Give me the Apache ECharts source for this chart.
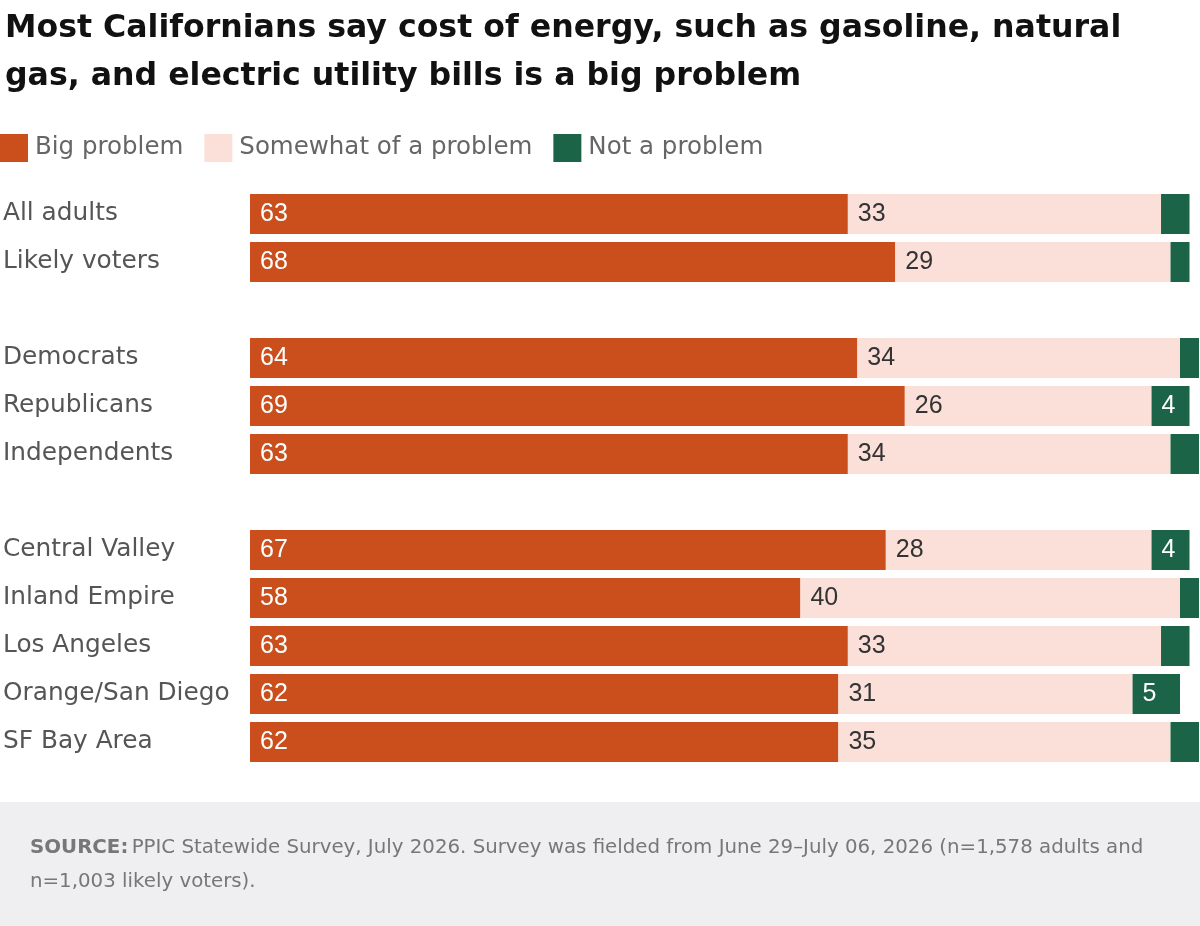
<!DOCTYPE html>
<html>
<head>
<meta charset="utf-8">
<script src="https://cdn.jsdelivr.net/npm/echarts@6/dist/echarts.min.js"></script>
<style>
  html, body { margin: 0; padding: 0; background: #fff; }
  #chart { width: 1200px; height: 926px; }
</style>
</head>
<body>
<div id="chart"></div>
<script>
// rows, '' = spacer between groups
var categories = ['All adults', 'Likely voters', '', 'Democrats', 'Republicans', 'Independents', '',
    'Central Valley', 'Inland Empire', 'Los Angeles', 'Orange/San Diego', 'SF Bay Area'];
var bigProblem = [63, 68, null, 64, 69, 63, null, 67, 58, 63, 62, 62];
var somewhatProblem = [33, 29, null, 34, 26, 34, null, 28, 40, 33, 31, 35];
var notProblem = [3, 2, null, 2, 4, 3, null, 4, 2, 3, 5, 3];

var FONT = '"DejaVu Sans", sans-serif';
var NUMFONT = '"Liberation Sans", Arial, sans-serif';
var chart = echarts.init(document.getElementById('chart'));

function seriesLabel(color, minShow) {
    return {
        show: true,
        position: 'insideLeft',
        distance: 10,
        formatter: function (p) {
            return (p.value == null || p.value < minShow) ? '' : '{n|' + p.value + '}';
        },
        rich: {
            n: { fontFamily: NUMFONT, fontSize: 25, color: color }
        }
    };
}

var option = {
    backgroundColor: '#ffffff',
    animation: false,
    title: {
        text: 'Most Californians say cost of energy, such as gasoline, natural\ngas, and electric utility bills is a big problem',
        left: 0,
        top: 0,
        textStyle: {
            fontFamily: FONT,
            fontSize: 31.6,
            fontWeight: 'bold',
            color: '#111111',
            lineHeight: 48
        }
    },
    legend: {
        left: 0,
        top: 134,
        padding: 0,
        itemWidth: 28,
        itemHeight: 28,
        itemGap: 21,
        icon: 'rect',
        textStyle: { fontFamily: FONT, fontSize: 24.5, color: '#666666', padding: [0, 0, 0, 2] },
        data: ['Big problem', 'Somewhat of a problem', 'Not a problem']
    },
    grid: { left: 250, right: 1, top: 190, height: 576 },
    xAxis: {
        type: 'value',
        min: 0,
        max: 100,
        show: false
    },
    yAxis: {
        type: 'category',
        inverse: true,
        data: categories,
        axisLine: { show: false },
        axisTick: { show: false },
        axisLabel: {
            align: 'left',
            margin: 247,
            fontFamily: FONT,
            fontSize: 24.8,
            color: '#555555'
        }
    },
    series: [
        {
            name: 'Big problem', type: 'bar', stack: 'total', barWidth: 40,
            itemStyle: { color: '#cb4f1c' },
            label: seriesLabel('#ffffff', 0),
            data: bigProblem
        },
        {
            name: 'Somewhat of a problem', type: 'bar', stack: 'total', barWidth: 40,
            itemStyle: { color: '#fbe0d9' },
            label: seriesLabel('#333333', 0),
            data: somewhatProblem
        },
        {
            name: 'Not a problem', type: 'bar', stack: 'total', barWidth: 40,
            itemStyle: { color: '#1b6447' },
            label: seriesLabel('#ffffff', 4),
            data: notProblem
        }
    ],
    graphic: [
        {
            type: 'rect',
            left: 0, top: 802,
            shape: { width: 1200, height: 124 },
            style: { fill: '#efeff1' },
            z: -1
        },
        {
            type: 'text',
            left: 30, top: 831,
            style: {
                rich: {
                    b: { fontFamily: FONT, fontSize: 19.8, fontWeight: 'bold', fill: '#777777' },
                    n: { fontFamily: FONT, fontSize: 19.8, fill: '#777777' }
                },
                text: '{b|SOURCE:} {n|PPIC Statewide Survey, July 2026. Survey was fielded from June 29\u2013July 06, 2026 (n=1,578 adults and}\n{n|n=1,003 likely voters).}',
                lineHeight: 34
            }
        }
    ]
};
chart.setOption(option);
</script>
</body>
</html>
